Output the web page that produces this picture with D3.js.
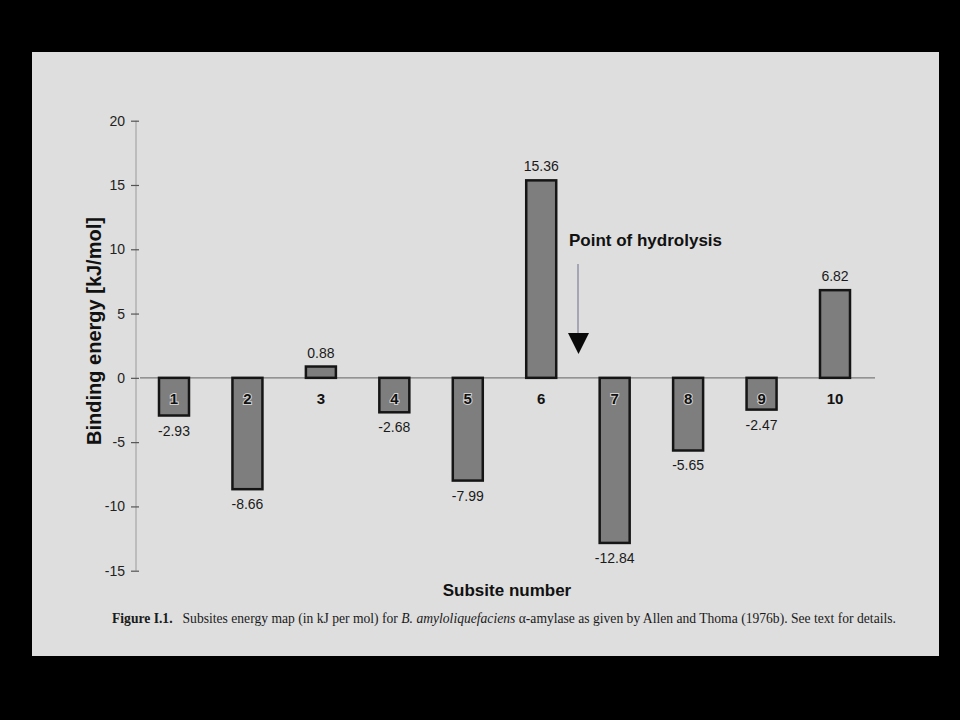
<!DOCTYPE html>
<html>
<head>
<meta charset="utf-8">
<script src="https://d3js.org/d3.v7.min.js"></script>
<style>
  html, body { margin: 0; padding: 0; background: #000; }
  svg { display: block; }
</style>
</head>
<body>
<script>

    // values
    var subsites = [1, 2, 3, 4, 5, 6, 7, 8, 9, 10];
    var energies = [-2.93, -8.66, 0.88, -2.68, -7.99, 15.36, -12.84, -5.65, -2.47, 6.82];
    var yTicks = [-15, -10, -5, 0, 5, 10, 15, 20];

    var data = subsites.map(function (s, i) {
        return {site: s, value: energies[i]};
    });

    // plain hyphen as minus sign, like the printed figure
    var fmtInt = function (v) { return d3.format("d")(v).replace("\u2212", "-"); };
    var fmtVal = function (v) { return d3.format(".2f")(v).replace("\u2212", "-"); };

    var svg = d3.select("body")
        .append("svg")
        .attr("width", 960)
        .attr("height", 720);

    // black slide with the scanned page on it
    svg.append("rect")
        .attr("width", 960)
        .attr("height", 720)
        .attr("fill", "#000");
    svg.append("rect")
        .attr("x", 32)
        .attr("y", 52)
        .attr("width", 907)
        .attr("height", 604)
        .attr("fill", "#dedede");

    var x = d3.scalePoint()
        .domain(subsites)
        .range([174, 835]);

    var y = d3.scaleLinear()
        .domain([-15, 20])
        .range([570.7, 120.7]);

    var barW = 30;
    var sans = "'Liberation Sans', Arial, sans-serif";

    //--------------------------axis-------------------------
    var yAxis = d3.axisLeft(y)
        .tickValues(yTicks)
        .tickSize(8)
        .tickPadding(6)
        .tickFormat(fmtInt);

    var gy = svg.append("g")
        .attr("transform", "translate(139,0)")
        .call(yAxis);
    gy.select(".domain")
        .attr("stroke", "#9a9a9a")
        .attr("stroke-width", 1)
        .attr("d", "M-3," + y(20) + "V" + y(-15));
    gy.selectAll(".tick line")
        .attr("stroke", "#555")
        .attr("stroke-width", 1.2);
    gy.selectAll(".tick text")
        .attr("fill", "#222")
        .style("font-family", sans)
        .style("font-size", "14px");

    // zero line
    svg.append("line")
        .attr("x1", 140)
        .attr("x2", 875)
        .attr("y1", y(0))
        .attr("y2", y(0))
        .attr("stroke", "#7a7a7a")
        .attr("stroke-width", 1.2);

    //--------------------------bars-------------------------
    svg.append("g")
        .selectAll("rect")
        .data(data)
        .enter()
        .append("rect")
        .attr("x", function (d) { return x(d.site) - barW / 2; })
        .attr("y", function (d) { return y(Math.max(0, d.value)); })
        .attr("width", barW)
        .attr("height", function (d) { return Math.abs(y(d.value) - y(0)); })
        .attr("fill", "#7e7e7e")
        .attr("stroke", "#151515")
        .attr("stroke-width", 2.5);

    // value labels
    svg.append("g")
        .selectAll("text")
        .data(data)
        .enter()
        .append("text")
        .attr("x", function (d) { return x(d.site); })
        .attr("y", function (d) {
            return d.value >= 0 ? y(d.value) - 9 : y(d.value) + 20;
        })
        .attr("text-anchor", "middle")
        .attr("fill", "#1a1a1a")
        .style("font-family", sans)
        .style("font-size", "14px")
        .text(function (d) { return fmtVal(d.value); });

    // subsite numbers (inside negative bars, under the line for positive ones)
    svg.append("g")
        .selectAll("text")
        .data(data)
        .enter()
        .append("text")
        .attr("x", function (d) { return x(d.site); })
        .attr("y", y(0) + 26)
        .attr("text-anchor", "middle")
        .attr("fill", "#111")
        .attr("stroke", function (d) { return d.value < 0 ? "#d0d0d0" : "none"; })
        .attr("stroke-width", 2)
        .attr("paint-order", "stroke")
        .style("font-family", sans)
        .style("font-size", "15px")
        .style("font-weight", "bold")
        .text(function (d) { return d.site; });

    //--------------------------annotation-------------------------
    svg.append("text")
        .attr("x", 569)
        .attr("y", 246)
        .attr("fill", "#111")
        .style("font-family", sans)
        .style("font-size", "17px")
        .style("font-weight", "bold")
        .text("Point of hydrolysis");

    svg.append("line")
        .attr("x1", 578)
        .attr("x2", 578)
        .attr("y1", 264)
        .attr("y2", 334)
        .attr("stroke", "#6c6c8c")
        .attr("stroke-width", 1);
    svg.append("path")
        .attr("d", "M568,333L589,333L578.5,354Z")
        .attr("fill", "#0a0a0a");

    //--------------------------titles-------------------------
    svg.append("text")
        .attr("transform", "translate(101,331) rotate(-90)")
        .attr("text-anchor", "middle")
        .attr("fill", "#111")
        .style("font-family", sans)
        .style("font-size", "20px")
        .style("font-weight", "bold")
        .text("Binding energy [kJ/mol]");

    svg.append("text")
        .attr("x", 507)
        .attr("y", 596)
        .attr("text-anchor", "middle")
        .attr("fill", "#111")
        .style("font-family", sans)
        .style("font-size", "17px")
        .style("font-weight", "bold")
        .text("Subsite number");

    var cap = svg.append("text")
        .attr("x", 112)
        .attr("y", 623)
        .attr("fill", "#1a1a1a")
        .style("font-family", "'Liberation Serif', 'Times New Roman', serif")
        .style("font-size", "13.6px");
    cap.append("tspan").style("font-weight", "bold").text("Figure I.1.");
    cap.append("tspan").attr("dx", 10).text("Subsites energy map (in kJ per mol) for ");
    cap.append("tspan").style("font-style", "italic").text("B. amyloliquefaciens");
    cap.append("tspan").text(" \u03b1-amylase as given by Allen and Thoma (1976b). See text for details.");

</script>
</body>
</html>
